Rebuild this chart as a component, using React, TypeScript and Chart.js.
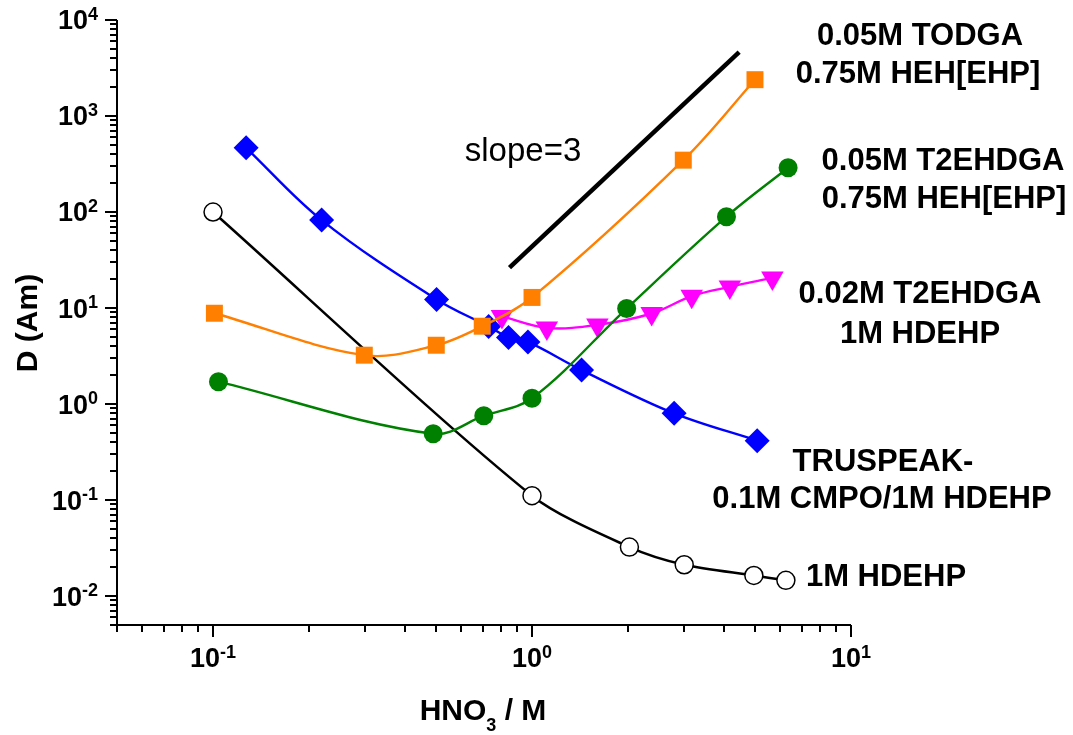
import React, { useEffect, useRef } from "react";
import { Chart, registerables } from "chart.js";

Chart.register(...registerables);

// ---- data ----
const hdehpX = [0.1, 1.0, 2.02, 3.0, 4.96, 6.25];
const hdehpY = [100, 0.111, 0.0324, 0.0212, 0.0164, 0.0146];

const truspeakX = [0.127, 0.219, 0.502, 0.731, 0.844, 0.971, 1.43, 2.79, 5.08];
const truspeakY = [466, 82.4, 12.3, 6.42, 4.94, 4.44, 2.26, 0.8, 0.416];

const t2ehdgaHehX = [0.104, 0.49, 0.706, 1.0, 1.98, 4.07, 6.35];
const t2ehdgaHehY = [1.71, 0.49, 0.756, 1.15, 9.88, 89.4, 289];

const todgaX = [0.101, 0.298, 0.501, 0.698, 1.0, 2.98, 5.0];
const todgaY = [8.83, 3.23, 4.1, 6.47, 12.9, 347, 2390];

const t2ehdgaHdehpX = [0.805, 1.113, 1.603, 2.372, 3.167, 4.17, 5.67];
const t2ehdgaHdehpY = [8.18, 6.21, 6.67, 8.77, 13.3, 16.6, 20.6];

const slopeX = [0.85, 4.46];
const slopeY = [26.4, 4640];

const xTickExps = [-1, 0, 1];
const yTickExps = [-2, -1, 0, 1, 2, 3, 4];

const xMin = 0.05;
const xMax = 10;
const yMin = 0.005;
const yMax = 10000;

const FONT = '"Liberation Sans", Arial, Helvetica, sans-serif';

const pts = (xs: number[], ys: number[]) => xs.map((x, i) => ({ x, y: ys[i] }));

function drawPow(ctx: CanvasRenderingContext2D, exp: number, x: number, y: number, align: "right" | "center") {
  ctx.font = `bold 27px ${FONT}`;
  const bw = ctx.measureText("10").width;
  ctx.font = `bold 18px ${FONT}`;
  const es = String(exp);
  const ew = ctx.measureText(es).width;
  const total = bw + ew;
  const x0 = align === "right" ? x - total : x - total / 2;
  ctx.textAlign = "left";
  ctx.textBaseline = "middle";
  ctx.font = `bold 27px ${FONT}`;
  ctx.fillText("10", x0, y);
  ctx.font = `bold 18px ${FONT}`;
  ctx.fillText(es, x0 + bw, y - 7);
}

const decorPlugin = {
  id: "decor",
  afterDraw(chart: any) {
    const { ctx, chartArea, scales } = chart;
    const { left, right, top, bottom } = chartArea;
    const xs = scales.x;
    const ys = scales.y;
    ctx.save();
    ctx.strokeStyle = "#000";
    ctx.fillStyle = "#000";
    ctx.lineWidth = 2;
    ctx.lineCap = "butt";

    // axis lines
    ctx.beginPath();
    ctx.moveTo(left, top);
    ctx.lineTo(left, bottom + 1);
    ctx.moveTo(left - 1, bottom);
    ctx.lineTo(right, bottom);
    ctx.stroke();

    // y ticks
    for (let e = -3; e <= 4; e++) {
      for (let m = 1; m <= 9; m++) {
        const v = m * Math.pow(10, e);
        if (v < yMin * 0.999 || v > yMax * 1.001) continue;
        const py = Math.round(ys.getPixelForValue(v));
        const len = m === 1 ? 12 : 7;
        ctx.beginPath();
        ctx.moveTo(left - len, py);
        ctx.lineTo(left, py);
        ctx.stroke();
      }
    }
    // x ticks
    for (let e = -2; e <= 1; e++) {
      for (let m = 1; m <= 9; m++) {
        const v = m * Math.pow(10, e);
        if (v < xMin * 0.999 || v > xMax * 1.001) continue;
        const px = Math.round(xs.getPixelForValue(v));
        const len = m === 1 ? 12 : 7;
        ctx.beginPath();
        ctx.moveTo(px, bottom);
        ctx.lineTo(px, bottom + len);
        ctx.stroke();
      }
    }

    // tick labels
    yTickExps.forEach((e) => {
      const py = ys.getPixelForValue(Math.pow(10, e));
      drawPow(ctx, e, left - 19, py + 2, "right");
    });
    xTickExps.forEach((e) => {
      const px = xs.getPixelForValue(Math.pow(10, e));
      drawPow(ctx, e, px, bottom + 35, "center");
    });

    // axis titles
    ctx.textBaseline = "middle";
    ctx.font = `bold 30px ${FONT}`;
    ctx.save();
    ctx.translate(29, 323);
    ctx.rotate(-Math.PI / 2);
    ctx.textAlign = "center";
    ctx.fillText("D (Am)", 0, 0);
    ctx.restore();

    {
      const big = `bold 30px ${FONT}`;
      const small = `bold 18px ${FONT}`;
      ctx.font = big;
      const w1 = ctx.measureText("HNO").width;
      const w3 = ctx.measureText(" / M").width;
      ctx.font = small;
      const w2 = ctx.measureText("3").width;
      const total = w1 + w2 + w3;
      const x0 = 483 - total / 2;
      const cy = 712;
      ctx.textAlign = "left";
      ctx.font = big;
      ctx.fillText("HNO", x0, cy);
      ctx.fillText(" / M", x0 + w1 + w2, cy);
      ctx.font = small;
      ctx.fillText("3", x0 + w1, cy + 14);
    }

    // series labels
    const labels: [string, number, number][] = [
      ["0.05M TODGA", 920, 36],
      ["0.75M HEH[EHP]", 918, 74],
      ["0.05M T2EHDGA", 943, 161],
      ["0.75M HEH[EHP]", 944, 199],
      ["0.02M T2EHDGA", 920, 294],
      ["1M HDEHP", 920, 334],
      ["TRUSPEAK-", 883, 462],
      ["0.1M CMPO/1M HDEHP", 882, 499],
      ["1M HDEHP", 886, 577],
    ];
    ctx.font = `bold 31px ${FONT}`;
    ctx.textAlign = "center";
    labels.forEach(([t, x, y]) => ctx.fillText(t, x, y));

    ctx.font = `33px ${FONT}`;
    ctx.fillText("slope=3", 523, 152);

    ctx.restore();
  },
};

export default function App() {
  const canvasRef = useRef<HTMLCanvasElement | null>(null);

  useEffect(() => {
    if (!canvasRef.current) return;
    const common = { fill: false, tension: 0.35, cubicInterpolationMode: "default" as const };
    const chart = new Chart(canvasRef.current, {
      type: "line",
      data: {
        datasets: [
          {
            ...common,
            label: "0.05M TODGA / 0.75M HEH[EHP]",
            data: pts(todgaX, todgaY),
            borderColor: "#FF7F00",
            backgroundColor: "#FF7F00",
            borderWidth: 2.4,
            pointStyle: "rect",
            pointRadius: 12,
            pointBorderWidth: 0,
            order: 1,
          },
          {
            ...common,
            label: "0.05M T2EHDGA / 0.75M HEH[EHP]",
            data: pts(t2ehdgaHehX, t2ehdgaHehY),
            borderColor: "#008000",
            backgroundColor: "#008000",
            borderWidth: 2.4,
            pointStyle: "circle",
            pointRadius: 9.5,
            pointBorderWidth: 0,
            order: 2,
          },
          {
            ...common,
            label: "0.02M T2EHDGA / 1M HDEHP",
            data: pts(t2ehdgaHdehpX, t2ehdgaHdehpY),
            borderColor: "#FF00FF",
            backgroundColor: "#FF00FF",
            borderWidth: 2.4,
            pointStyle: "triangle",
            pointRotation: 180,
            pointRadius: 13,
            pointBorderWidth: 0,
            order: 3,
          },
          {
            ...common,
            label: "TRUSPEAK- 0.1M CMPO/1M HDEHP",
            data: pts(truspeakX, truspeakY),
            borderColor: "#0000FF",
            backgroundColor: "#0000FF",
            borderWidth: 2.4,
            pointStyle: "rectRot",
            pointRadius: 12.5,
            pointBorderWidth: 0,
            order: 4,
          },
          {
            ...common,
            tension: 0.28,
            label: "1M HDEHP",
            data: pts(hdehpX, hdehpY),
            borderColor: "#000000",
            backgroundColor: "#FFFFFF",
            pointBorderColor: "#000000",
            borderWidth: 2.5,
            pointStyle: "circle",
            pointRadius: 9,
            pointBorderWidth: 1.5,
            order: 5,
          },
          {
            label: "slope=3",
            data: pts(slopeX, slopeY),
            borderColor: "#000000",
            borderWidth: 4.5,
            pointRadius: 0,
            tension: 0,
            fill: false,
            order: 6,
          },
        ],
      },
      options: {
        animation: false,
        responsive: true,
        maintainAspectRatio: false,
        events: [],
        layout: { padding: { left: 117, right: 222, top: 20, bottom: 110 } },
        plugins: { legend: { display: false }, tooltip: { enabled: false } },
        scales: {
          x: { type: "logarithmic", min: xMin, max: xMax, display: false },
          y: { type: "logarithmic", min: yMin, max: yMax, display: false },
        },
      },
      plugins: [decorPlugin],
    });
    return () => chart.destroy();
  }, []);

  return (
    <div style={{ position: "absolute", left: 0, top: 0, width: 1073, height: 735, background: "#fff" }}>
      <canvas ref={canvasRef} />
    </div>
  );
}
